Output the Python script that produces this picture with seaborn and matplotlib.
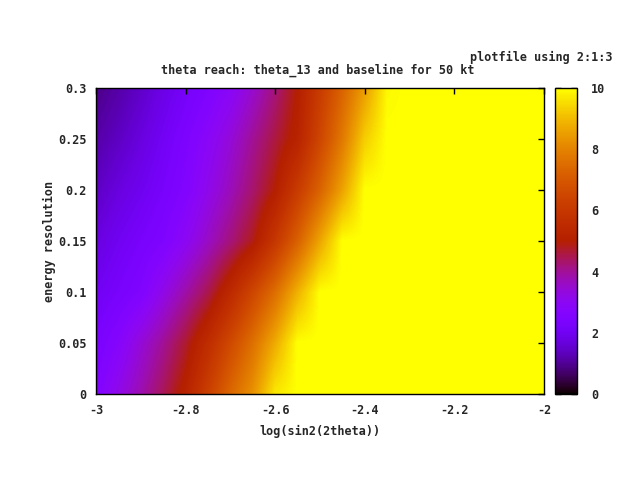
import numpy as np
import seaborn as sns
import matplotlib.pyplot as plt

# grid
log_sin2 = [-3.00, -2.95, -2.90, -2.85, -2.80, -2.75, -2.70, -2.65, -2.60, -2.55, -2.50,
            -2.45, -2.40, -2.35, -2.30, -2.25, -2.20, -2.15, -2.10, -2.05, -2.00]
energy_res = [0.0, 0.05, 0.10, 0.15, 0.20, 0.25, 0.30]

reach_000 = [2.55, 3.2, 3.8, 4.45, 5.2, 6.3, 7.4, 8.3, 9.7, 10, 10, 10, 10, 10, 10, 10, 10, 10, 10, 10, 10]
reach_005 = [2.3, 2.75, 3.4, 4.0, 4.7, 5.6, 6.6, 7.6, 8.75, 10, 10, 10, 10, 10, 10, 10, 10, 10, 10, 10, 10]
reach_010 = [2.0, 2.25, 2.55, 3.2, 3.85, 4.5, 5.45, 6.5, 7.55, 8.85, 10, 10, 10, 10, 10, 10, 10, 10, 10, 10, 10]
reach_015 = [1.7, 2.0, 2.25, 2.5, 3.0, 3.6, 4.2, 4.85, 6.0, 7.25, 8.65, 10, 10, 10, 10, 10, 10, 10, 10, 10, 10]
reach_020 = [1.4, 1.7, 1.95, 2.25, 2.6, 3.15, 3.7, 4.3, 5.0, 6.15, 7.3, 8.6, 10, 10, 10, 10, 10, 10, 10, 10, 10]
reach_025 = [1.15, 1.4, 1.7, 2.05, 2.45, 2.9, 3.4, 4.0, 4.6, 5.2, 6.5, 7.8, 9.3, 10, 10, 10, 10, 10, 10, 10, 10]
reach_030 = [0.9, 1.15, 1.45, 1.8, 2.15, 2.5, 2.9, 3.5, 4.2, 5.0, 6.15, 7.3, 8.5, 9.9, 10, 10, 10, 10, 10, 10, 10]

sns.set_theme(style="white")
plt.rcParams['font.family'] = ['DejaVu Sans Mono']
plt.rcParams['font.weight'] = 'bold'
fs = 8.5

Z = np.array([reach_000, reach_005, reach_010, reach_015, reach_020, reach_025, reach_030])
dx = (log_sin2[1] - log_sin2[0]) / 2
dy = (energy_res[1] - energy_res[0]) / 2

fig = plt.figure(figsize=(6.4, 4.8), dpi=100)
ax = fig.add_axes([96/640, 86/480, 448/640, 306/480])
img = ax.imshow(Z, origin='lower', aspect='auto', interpolation='bilinear',
                cmap='gnuplot', vmin=0, vmax=10,
                extent=[log_sin2[0] - dx, log_sin2[-1] + dx,
                        energy_res[0] - dy, energy_res[-1] + dy])
ax.set_xlim(-3, -2)
ax.set_ylim(0, 0.3)
ax.set_xticks([-3, -2.8, -2.6, -2.4, -2.2, -2])
ax.set_xticklabels(['-3', '-2.8', '-2.6', '-2.4', '-2.2', '-2'])
ax.set_yticks([0, 0.05, 0.1, 0.15, 0.2, 0.25, 0.3])
ax.set_yticklabels(['0', '0.05', '0.1', '0.15', '0.2', '0.25', '0.3'])
ax.tick_params(direction='in', top=True, right=True, length=4, width=1, color='black',
               labelsize=fs, pad=7)
for s in ax.spines.values():
    s.set_color('black')
    s.set_linewidth(1)
ax.set_xlabel('log(sin2(2theta))', fontsize=fs, fontweight='bold', labelpad=6)
ax.set_ylabel('energy resolution', fontsize=fs, fontweight='bold', labelpad=1)
fig.text(318/640, 1 - 70/480, 'theta reach: theta_13 and baseline for 50 kt',
         ha='center', va='center', fontsize=fs, fontweight='bold')
fig.text(612/640, 1 - 57/480, 'plotfile using 2:1:3',
         ha='right', va='center', fontsize=fs, fontweight='bold')

cax = fig.add_axes([555/640, 86/480, 22/640, 306/480])
cb = fig.colorbar(img, cax=cax, ticks=[0, 2, 4, 6, 8, 10])
cb.outline.set_color('black')
cb.outline.set_linewidth(1)
cax.tick_params(direction='in', left=True, right=True, length=4, width=1, color='black',
                labelsize=fs, pad=10)

fig.savefig('out.png', dpi=100)
